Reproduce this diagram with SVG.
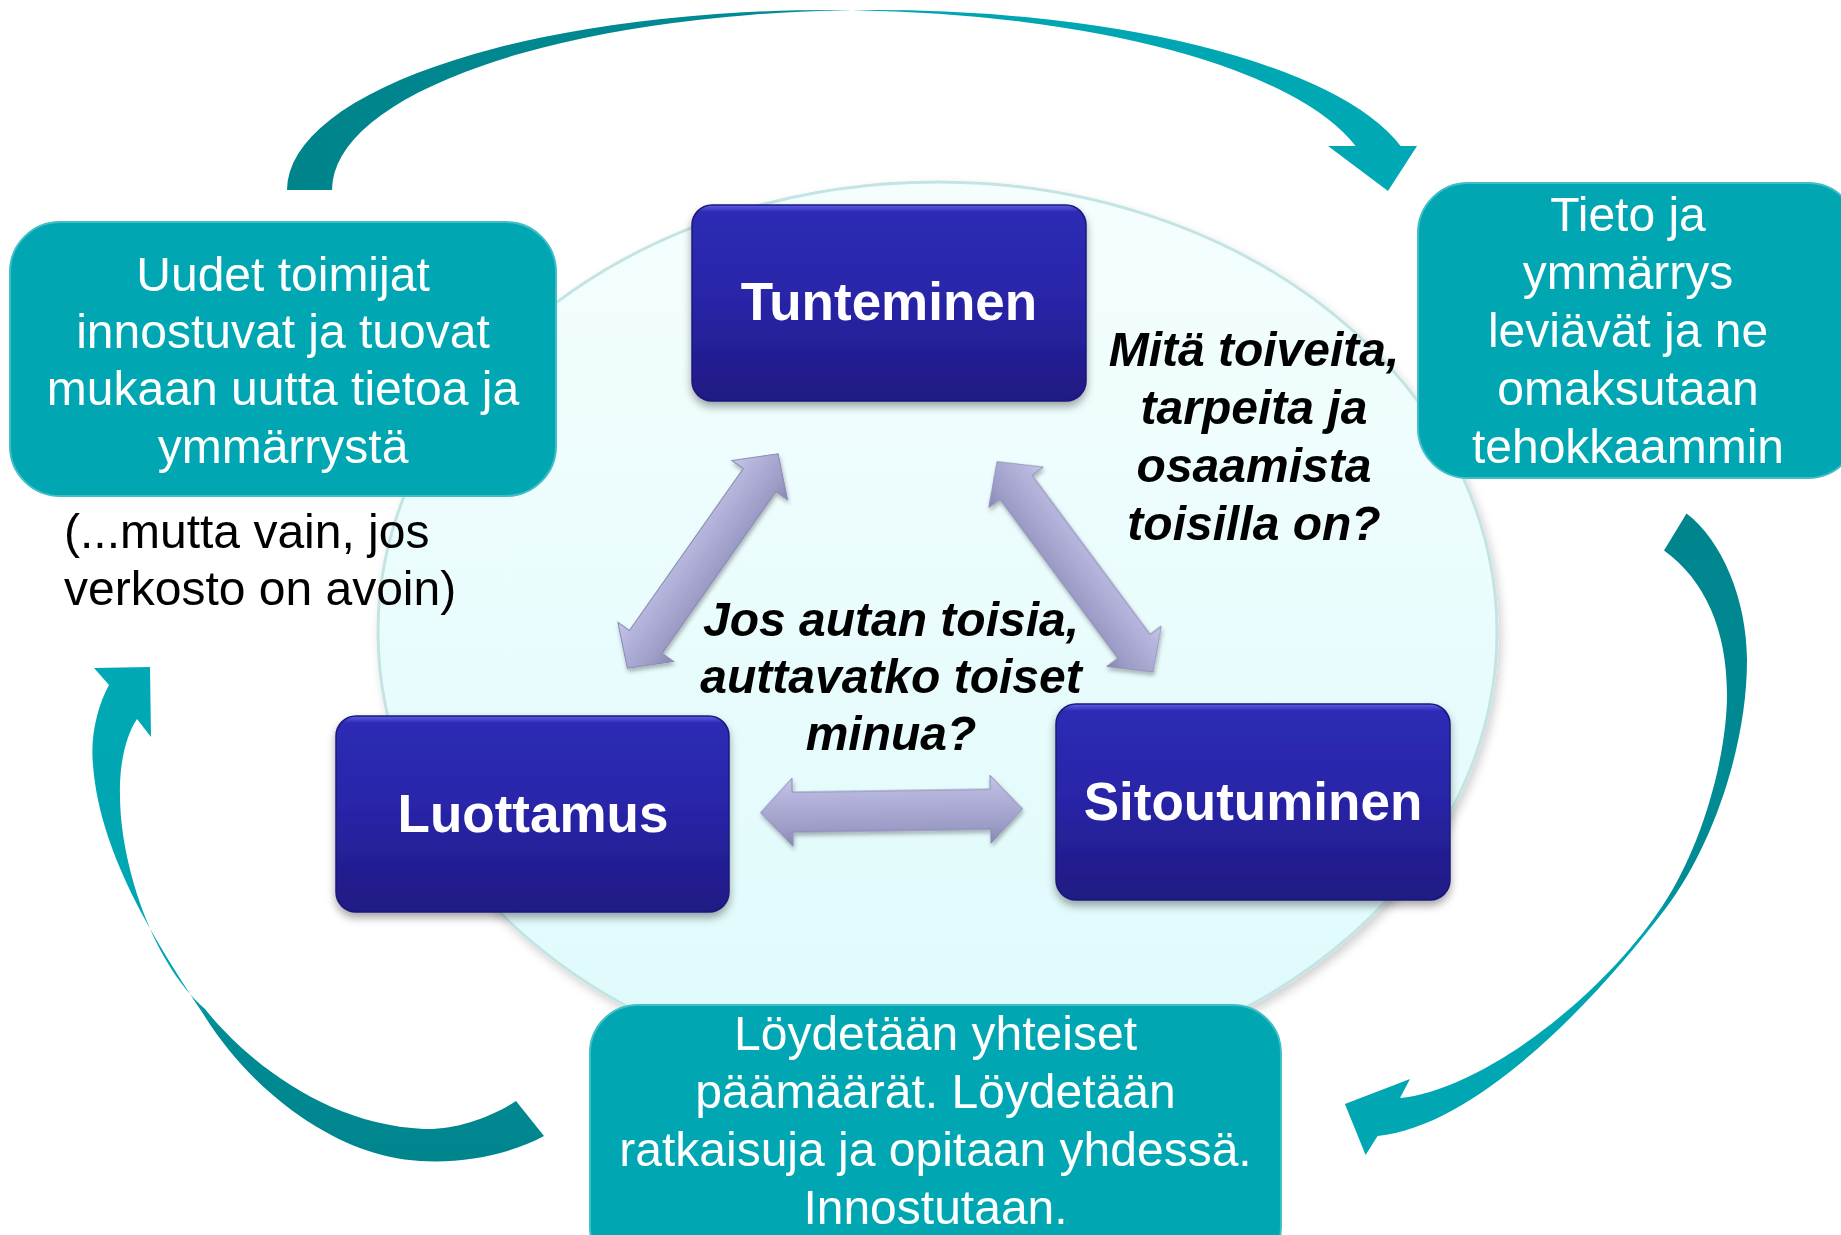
<svg xmlns="http://www.w3.org/2000/svg" width="1841" height="1235" viewBox="0 0 1841 1235">
<defs>
  <style>
    .teal { fill: #00A7B3; stroke: #3FBEC6; stroke-width: 2; }
    .blue { fill: url(#gBlue); stroke: #1C187A; stroke-width: 1.5; }
    .tw { font-family: "Liberation Sans", Arial, sans-serif; font-size: 48px; fill: #FFFFFF; text-anchor: middle; }
    .tb { font-family: "Liberation Sans", Arial, sans-serif; font-size: 48px; fill: #000000; }
    .tq { font-family: "Liberation Sans", Arial, sans-serif; font-size: 48px; font-weight: bold; font-style: italic; fill: #000000; text-anchor: middle; }
    .tn { font-family: "Liberation Sans", Arial, sans-serif; font-size: 53px; font-weight: bold; fill: #FFFFFF; text-anchor: middle; }
    .dbl { fill: url(#gDbl); stroke: #8A8AB4; stroke-width: 1; }
  </style>
  <linearGradient id="gEll" x1="0" y1="0" x2="0" y2="1">
    <stop offset="0" stop-color="#F5FEFE"/>
    <stop offset="1" stop-color="#DEFAFB"/>
  </linearGradient>
  <linearGradient id="gBlue" x1="0" y1="0" x2="0" y2="1">
    <stop offset="0" stop-color="#5E5EE8"/>
    <stop offset="0.035" stop-color="#2D2BB5"/>
    <stop offset="0.45" stop-color="#2925A9"/>
    <stop offset="1" stop-color="#1F1A83"/>
  </linearGradient>
  <linearGradient id="gDbl" x1="0" y1="0" x2="0" y2="1">
    <stop offset="0" stop-color="#C6C6E8"/>
    <stop offset="0.3" stop-color="#B2B2DA"/>
    <stop offset="0.75" stop-color="#9C9CC6"/>
    <stop offset="1" stop-color="#8686B0"/>
  </linearGradient>
  <linearGradient id="gTop" x1="0" y1="0" x2="1" y2="0">
    <stop offset="0" stop-color="#00848C"/>
    <stop offset="0.44" stop-color="#008B94"/>
    <stop offset="0.53" stop-color="#00A4B0"/>
    <stop offset="1" stop-color="#00A9B5"/>
  </linearGradient>
  <linearGradient id="gRight" x1="0" y1="0" x2="0" y2="1">
    <stop offset="0" stop-color="#00858D"/>
    <stop offset="0.57" stop-color="#008C95"/>
    <stop offset="0.65" stop-color="#00A4B0"/>
    <stop offset="1" stop-color="#00A8B4"/>
  </linearGradient>
  <linearGradient id="gLeft" x1="0" y1="1" x2="0" y2="0">
    <stop offset="0" stop-color="#00858D"/>
    <stop offset="0.27" stop-color="#008B94"/>
    <stop offset="0.35" stop-color="#00A4B0"/>
    <stop offset="1" stop-color="#00A9B5"/>
  </linearGradient>
  <filter id="shBox" x="-10%" y="-10%" width="120%" height="130%">
    <feDropShadow dx="0" dy="5" stdDeviation="4" flood-color="#000000" flood-opacity="0.35"/>
  </filter>
  <filter id="shEll" x="-5%" y="-5%" width="110%" height="115%">
    <feDropShadow dx="3" dy="5" stdDeviation="5" flood-color="#000000" flood-opacity="0.18"/>
  </filter>
  <filter id="shDbl" x="-10%" y="-30%" width="120%" height="160%">
    <feDropShadow dx="1" dy="3" stdDeviation="2" flood-color="#000000" flood-opacity="0.3"/>
  </filter>
  <path id="dbl" class="dbl" d="M -131,0 L -99,-34 L -99,-20 L 99,-20 L 99,-34 L 131,0 L 99,34 L 99,20 L -99,20 L -99,34 Z"/>
</defs>

<rect x="0" y="0" width="1841" height="1235" fill="#FFFFFF"/>

<g id="background-ellipse">
  <ellipse cx="937.5" cy="632" rx="559.5" ry="450" fill="url(#gEll)" stroke="#C4E4E4" stroke-width="3" filter="url(#shEll)"/>
</g>

<g id="connectors">
  <path id="arc-top" fill="url(#gTop)" d="M 287,190 A 542.5 180 0 0 1 852,10.2 A 542.5 180 0 0 1 1400.6,146 L 1417,146 L 1388,191 L 1328,146 L 1355.5,146 A 542.5 180 0 0 0 852,10.2 A 542.5 180 0 0 0 332,190 Z"/>
  <path id="arc-right" fill="url(#gRight)" d="M 1686.5,513.5 C 1722,540 1747,600 1747,660 C 1747,750 1710,850 1666,908 C 1600,995 1480,1125 1377.6,1136 L 1365.6,1155 L 1344.9,1104 L 1410,1079 L 1400,1098 C 1480,1090 1600,1000 1663,905 C 1700,850 1727,760 1727,694 C 1727,630 1705,580 1664,550.5 Z"/>
  <path id="arc-left" fill="url(#gLeft)" d="M 544,1136 C 500,1160 430,1170 375,1153 C 320,1137 250,1090 202,1012 C 165,955 100,860 93,765 C 90,735 98,705 109,685 L 94,668 L 150,667 L 151,737 L 137,719 C 126,735 119,765 120,795 C 120,860 150,960 205,1009 C 250,1065 330,1125 424,1129 C 455,1130 490,1118 516,1101 Z"/>
  <g filter="url(#shDbl)">
    <use id="dbl-left" href="#dbl" transform="translate(702.7,561) rotate(-54.87)"/>
    <use id="dbl-right" href="#dbl" transform="translate(1075,566.8) rotate(53.46)"/>
    <use id="dbl-bottom" href="#dbl" transform="translate(891.5,810.7) rotate(-0.86)"/>
  </g>
</g>

<g id="node-uudet">
  <rect class="teal" x="10" y="222" width="546" height="274" rx="50" ry="50"/>
  <text class="tw" x="283" y="291">Uudet toimijat</text>
  <text class="tw" x="283" y="348">innostuvat ja tuovat</text>
  <text class="tw" x="283" y="405">mukaan uutta tietoa ja</text>
  <text class="tw" x="283" y="463">ymmärrystä</text>
</g>

<g id="note-avoin">
  <text class="tb" x="64" y="548">(...mutta vain, jos</text>
  <text class="tb" x="64" y="605">verkosto on avoin)</text>
</g>

<g id="node-tieto">
  <rect class="teal" x="1418" y="183" width="440" height="295" rx="50" ry="50"/>
  <text class="tw" x="1628" y="231">Tieto ja</text>
  <text class="tw" x="1628" y="289">ymmärrys</text>
  <text class="tw" x="1628" y="347">leviävät ja ne</text>
  <text class="tw" x="1628" y="405">omaksutaan</text>
  <text class="tw" x="1628" y="463">tehokkaammin</text>
</g>

<g id="node-loydetaan">
  <rect class="teal" x="590" y="1005" width="691" height="270" rx="48" ry="48"/>
  <text class="tw" x="935.5" y="1050">Löydetään yhteiset</text>
  <text class="tw" x="935.5" y="1108">päämäärät. Löydetään</text>
  <text class="tw" x="935.5" y="1166">ratkaisuja ja opitaan yhdessä.</text>
  <text class="tw" x="935.5" y="1224">Innostutaan.</text>
</g>

<g id="node-tunteminen">
  <rect class="blue" x="692" y="205" width="394" height="196" rx="20" ry="20" filter="url(#shBox)"/>
  <text class="tn" x="889" y="320">Tunteminen</text>
</g>

<g id="node-luottamus">
  <rect class="blue" x="336" y="716" width="393" height="196" rx="20" ry="20" filter="url(#shBox)"/>
  <text class="tn" x="533" y="832">Luottamus</text>
</g>

<g id="node-sitoutuminen">
  <rect class="blue" x="1056" y="704" width="394" height="196" rx="20" ry="20" filter="url(#shBox)"/>
  <text class="tn" x="1253" y="820">Sitoutuminen</text>
</g>

<g id="label-mita">
  <text class="tq" x="1254" y="366">Mitä toiveita,</text>
  <text class="tq" x="1254" y="424">tarpeita ja</text>
  <text class="tq" x="1254" y="482">osaamista</text>
  <text class="tq" x="1254" y="540">toisilla on?</text>
</g>

<g id="label-jos">
  <text class="tq" x="891" y="636">Jos autan toisia,</text>
  <text class="tq" x="891" y="693">auttavatko toiset</text>
  <text class="tq" x="891" y="750">minua?</text>
</g>
</svg>
